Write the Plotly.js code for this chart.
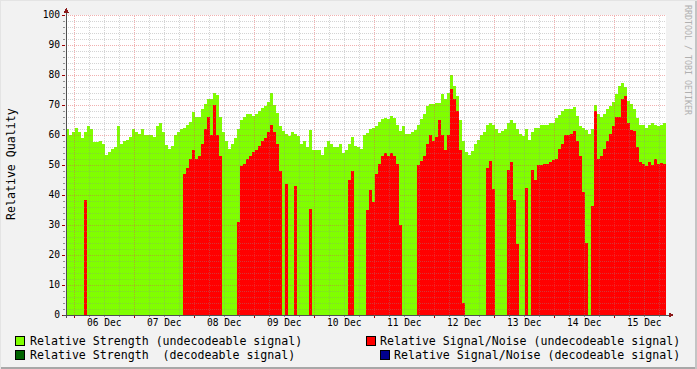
<!DOCTYPE html>
<html>
<head>
<meta charset="utf-8">
<script src="https://cdn.plot.ly/plotly-3.0.1.min.js"></script>
<style>
html,body{margin:0;padding:0;background:#f2f2f2;}
#chart{width:697px;height:369px;}
.shapelayer path, path.js-fill {shape-rendering: crispEdges;}
</style>
</head>
<body>
<div id="chart"></div>
<script>
// ---- data (one value per 72-minute step, starting 05 Dec 20:41) ----
const startTime = '2023-12-05T20:40:48Z';
const stepMinutes = 72;

const strengthUndecodeable = [
 62,60,61,62.5,61,59,61,63,62,57.6,
 57.6,58,57,53.5,54.5,55.4,56,63,57,58,
 58.5,59.5,62,61,60.5,62,60,60,60,59.5,
 63,64,61,56.8,55.4,56.5,60,61,62,62.5,
 63.5,64.5,67.7,66,66,68.6,70.2,72,72,74,
 73.5,66,61,58,55.4,57,59,62,65,66,
 67,67,66.5,67,68,69,69.7,71,73.9,70,
 67.5,63,61.5,60.2,59.7,61,60.2,59.7,57,58,
 56,61.8,55,55,55,53.5,56,58,57,56,
 56,57,54,55,57,59.2,56.5,56,55.4,59.9,
 60.8,61.9,62.5,63,64.3,65.2,65.8,65.4,66.3,65.8,
 63.5,61.3,63,60.2,60.5,61,61.6,63.2,65.2,66.9,
 69.7,70.2,70.2,70.8,70.8,73.6,72.1,74.1,80,76.4,
 73,65,58,54.5,53.2,54.6,57,58.5,59.9,61,
 63.5,64,63.2,61.9,60.8,61.3,62,64,65,64.1,
 62,60.2,59.6,61.9,58.5,61,62.4,62.4,63.2,63.2,
 63.2,64.1,64.1,65.8,66.6,68,68.6,68.6,68.6,69.5,
 66.3,63,62.4,61.6,60.5,62,69.9,66.9,66.1,66.9,
 68.6,69.7,71,73.6,76.4,77.5,76,71.3,70.2,68.6,
 65.8,63.5,63.5,62.4,63.5,63.9,63.2,63,63.5,64
];

const snrUndecodeable = [
 0,0,0,0,0,0,38.5,0,0,0,
 0,0,0,0,0,0,0,0,0,0,
 0,0,0,0,0,0,0,0,0,0,
 0,0,0,0,0,0,0,0,0,47,
 49,52,55,52,53,57,62,66,60,70,
 60,53,0,0,0,0,0,31,49.6,50.5,
 52,53,54.5,55,56.5,58,59,61,63.5,61,
 57,48,0,43.8,0,0,43,0,0,0,
 0,35.3,0,0,0,0,0,0,0,0,
 0,0,0,0,45,48,0,0,0,0,
 35,41.8,37.6,47,50.2,53,54,53,54,53,
 50.2,30,0,0,0,0,0,50,51.3,53,
 57,60,58,59.5,65,60,55,60,75.3,72,
 68,55,4,0,0,0,0,0,0,0,
 49,51.3,42,0,0,0,0,48.5,51,38.5,
 23.7,0,0,42.4,0,48.3,45,50,50,50.3,
 50.2,51,51.8,52,55.5,57,59.9,59.9,60.5,61.3,
 58,53,41,24,0,36.5,68,52,53,55.5,
 58,60.2,63,66,66,72,73,64,61.6,61.5,
 56,51,50.2,49.8,51,50,52,50.5,50.8,50.2
];

const dayLabels = ['06 Dec','07 Dec','08 Dec','09 Dec','10 Dec','11 Dec','12 Dec','13 Dec','14 Dec','15 Dec'];
const dayNoons = ['2023-12-06 12:00','2023-12-07 12:00','2023-12-08 12:00','2023-12-09 12:00','2023-12-10 12:00',
                  '2023-12-11 12:00','2023-12-12 12:00','2023-12-13 12:00','2023-12-14 12:00','2023-12-15 12:00'];

const legendNames = ['Relative Strength (undecodeable signal)',
                     'Relative Signal/Noise (undecodeable signal)',
                     'Relative Strength\u00a0 (decodeable signal)',
                     'Relative Signal/Noise (decodeable signal)'];
const legendColors = ['#80ff00','#ff0000','#006400','#00008c'];

// ---- build ----
const t0 = Date.parse(startTime);
const stepMs = stepMinutes*60000;
function iso(ms){ return new Date(ms).toISOString().replace('T',' ').replace('Z',''); }
const xs = strengthUndecodeable.map((_,i)=>iso(t0+i*stepMs));
xs.push(iso(t0+strengthUndecodeable.length*stepMs));
const yG = strengthUndecodeable.concat([strengthUndecodeable[strengthUndecodeable.length-1]]);
const yR = snrUndecodeable.concat([snrUndecodeable[snrUndecodeable.length-1]]);
const xEnd = xs[xs.length-1];

const traces = [
 {x:xs,y:yG,type:'scatter',mode:'lines',line:{shape:'hv',width:0,color:'#80ff00'},
  fill:'tozeroy',fillcolor:'#80ff00',name:legendNames[0],hoverinfo:'skip'},
 {x:xs,y:yR,type:'scatter',mode:'lines',line:{shape:'hv',width:0,color:'#ff0000'},
  fill:'tozeroy',fillcolor:'#ff0000',name:legendNames[1],hoverinfo:'skip'}
];

// plot geometry (pixels) for paper conversion
const L=66, T=15, W=600, H=300;
const px = p => (p-L)/W;
const py = p => (T+H-p)/H;

const shapes = [];
const minorC='rgba(143,143,143,0.38)', majorC='rgba(224,80,80,0.45)';
for(let v=2; v<=100; v+=2){
  shapes.push({type:'line',layer:'above',xref:'paper',yref:'y',x0:0,x1:1,y0:v,y1:v,
    line:{color:(v%10===0?majorC:minorC),width:1,dash:'1px,1px'}});
}
const day0 = Date.parse('2023-12-06T00:00:00Z');
for(let h=0; h<=9*24+18; h+=6){
  const t = iso(day0+h*3600000);
  const major = (h%24===0);
  shapes.push({type:'line',layer:'above',xref:'x',yref:'paper',x0:t,x1:t,y0:0,y1:1,
    line:{color:(major?majorC:minorC),width:1,dash:'1px,1px'}});
  shapes.push({type:'line',layer:'above',xref:'x',yref:'paper',x0:t,x1:t,y0:py(315),y1:py(major?318:317),
    line:{color:(major?'#a00000':'#909090'),width:1}});
}
// axis lines + arrows
shapes.push({type:'line',layer:'above',xref:'paper',yref:'paper',x0:px(66),x1:px(66),y0:py(318),y1:py(11),line:{color:'#505050',width:1}});
shapes.push({type:'line',layer:'above',xref:'paper',yref:'paper',x0:px(63),x1:px(670),y0:py(315),y1:py(315),line:{color:'#505050',width:1}});
shapes.push({type:'path',layer:'above',xref:'paper',yref:'paper',
  path:`M${px(63.5)},${py(12.5)} L${px(68.5)},${py(12.5)} L${px(66)},${py(7.5)} Z`,fillcolor:'#8b1a1a',line:{width:0}});
shapes.push({type:'path',layer:'above',xref:'paper',yref:'paper',
  path:`M${px(669)},${py(312.5)} L${px(669)},${py(317.5)} L${px(674)},${py(315)} Z`,fillcolor:'#8b1a1a',line:{width:0}});
// frame of the image
shapes.push({type:'line',layer:'above',xref:'paper',yref:'paper',x0:px(0),x1:px(697),y0:py(367.5),y1:py(367.5),line:{color:'#a8a8a8',width:2}});
shapes.push({type:'line',layer:'above',xref:'paper',yref:'paper',x0:px(695.5),x1:px(695.5),y0:py(0),y1:py(369),line:{color:'#c4c4c4',width:2}});
shapes.push({type:'line',layer:'above',xref:'paper',yref:'paper',x0:px(0),x1:px(697),y0:py(0.5),y1:py(0.5),line:{color:'#e4e4e4',width:1}});
shapes.push({type:'line',layer:'above',xref:'paper',yref:'paper',x0:px(0.5),x1:px(0.5),y0:py(0),y1:py(369),line:{color:'#e4e4e4',width:1}});

// legend boxes and texts
const legPos = [ {bx:15,tx:30,cy:341}, {bx:366,tx:380,cy:341}, {bx:15,tx:30,cy:355}, {bx:380,tx:394,cy:355} ];
const annotations = [];
legPos.forEach((p,k)=>{
  shapes.push({type:'rect',layer:'above',xref:'paper',yref:'paper',x0:px(p.bx),x1:px(p.bx+9),y0:py(p.cy+4.5),y1:py(p.cy-4.5),
    fillcolor:legendColors[k],line:{color:'#000',width:1}});
  annotations.push({xref:'paper',yref:'paper',x:px(p.tx-2),y:py(p.cy),xanchor:'left',yanchor:'middle',showarrow:false,
    text:legendNames[k],font:{family:'DejaVu Sans Mono',size:11.6,color:'#000'}});
});
annotations.push({xref:'paper',yref:'paper',x:px(11),y:py(164),textangle:-90,showarrow:false,xanchor:'center',yanchor:'middle',
  text:'Relative Quality',font:{family:'DejaVu Sans Mono',size:11.6,color:'#000'}});
annotations.push({xref:'paper',yref:'paper',x:px(688),y:py(60),textangle:90,showarrow:false,xanchor:'center',yanchor:'middle',
  text:'RRDTOOL / TOBI OETIKER',font:{family:'DejaVu Sans Mono',size:8.3,color:'#b0b0b0'}});

const layout = {
  width:697,height:369,
  margin:{l:L,r:697-L-W,t:T,b:369-T-H,pad:0},
  paper_bgcolor:'#f2f2f2',plot_bgcolor:'#ffffff',
  showlegend:false,
  xaxis:{type:'date',range:[xs[0],xEnd],showgrid:false,zeroline:false,showline:false,
    tickmode:'array',tickvals:dayNoons,ticktext:dayLabels,ticks:'',
    tickfont:{family:'DejaVu Sans Mono',size:9.6,color:'#000'},fixedrange:true},
  yaxis:{range:[0,100],showgrid:false,zeroline:false,showline:false,dtick:10,tick0:0,
    ticks:'outside',ticklen:3,tickcolor:'#a00000',tickwidth:1,
    minor:{dtick:2,ticks:'outside',ticklen:2,tickcolor:'#909090'},
    tickfont:{family:'DejaVu Sans Mono',size:9.6,color:'#000'},fixedrange:true},
  shapes:shapes,annotations:annotations
};
Plotly.newPlot('chart',traces,layout,{staticPlot:true,displayModeBar:false});
</script>
</body>
</html>
